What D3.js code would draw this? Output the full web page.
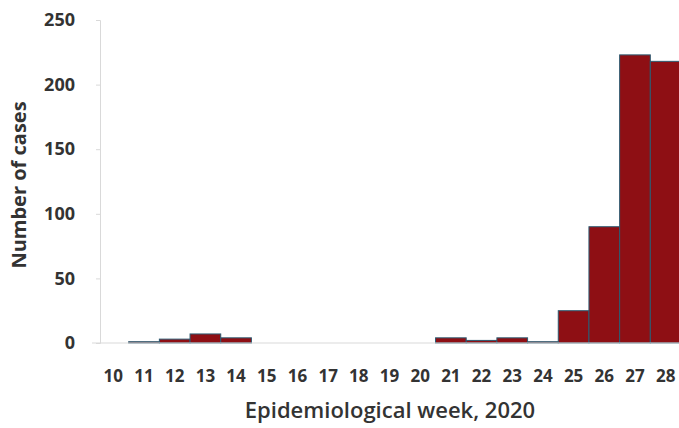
<!DOCTYPE html>
<html>
<head>
<meta charset="utf-8">
<script src="https://cdn.jsdelivr.net/npm/d3@7"></script>
<style>
  body { margin:0; background:#fff; }
  svg { display:block; font-family:"Open Sans", sans-serif; }
  .tick text { fill:#333; font-weight:700; font-family:"Open Sans", sans-serif; }
  .axis path, .axis line { stroke:#d9d9d9; }
</style>
</head>
<body>
<div id="chart"></div>
<script>
// data
var weeks = ["10","11","12","13","14","15","16","17","18","19","20","21","22","23","24","25","26","27","28"];
var cases = [0, 1, 3, 7, 4, 0, 0, 0, 0, 0, 0, 4, 2, 4, 1, 25, 90, 223, 218];
var yTicks = [0, 50, 100, 150, 200, 250];

var W = 679, H = 428;
var margin = {top:20, right:-2, bottom:85, left:98},
    width = W - margin.left - margin.right,
    height = H - margin.top - margin.bottom;

var svg = d3.select("#chart").append("svg")
    .attr("width", W)
    .attr("height", H);
var chart = svg.append("g")
    .attr("transform", "translate("+margin.left+","+margin.top+")");

var x = d3.scaleBand().domain(weeks).range([0, width]).padding(0);
var y = d3.scaleLinear().domain([0, 250]).range([height, 0]);

// y axis
var yAxis = chart.append("g").attr("class", "axis")
    .attr("transform", "translate(2,0)")
    .call(d3.axisLeft(y).tickValues(yTicks).tickSize(4).tickPadding(21));
yAxis.attr("font-family", null);
yAxis.selectAll("text").style("font-size", "18px");

// bars
chart.append("g").selectAll("rect")
    .data(cases)
    .enter().append("rect")
    .attr("x", function(d, i){ return x(weeks[i]); })
    .attr("y", function(d){ return y(d); })
    .attr("width", x.bandwidth())
    .attr("height", function(d){ return height - y(d); })
    .attr("fill", "#8e0f14")
    .attr("stroke", "#2d5b72")
    .attr("stroke-width", 1);

// x axis
var xAxis = chart.append("g").attr("class", "axis")
    .attr("transform", "translate(0,"+height+")")
    .call(d3.axisBottom(x).tickSize(0).tickPadding(27));
xAxis.attr("font-family", null);
xAxis.select(".domain").attr("d", "M-6,0H" + width);
xAxis.selectAll("text").style("font-size", "17px");

// axis labels
svg.append("text")
    .attr("transform", "translate(26,185) rotate(-90)")
    .style("text-anchor", "middle")
    .style("font-size", "20px")
    .style("font-weight", 700)
    .style("fill", "#333")
    .text("Number of cases");
svg.append("text")
    .attr("x", 390)
    .attr("y", 418)
    .style("text-anchor", "middle")
    .style("font-size", "22px")
    .style("font-weight", 600)
    .style("fill", "#333")
    .text("Epidemiological week, 2020");
</script>
</body>
</html>
